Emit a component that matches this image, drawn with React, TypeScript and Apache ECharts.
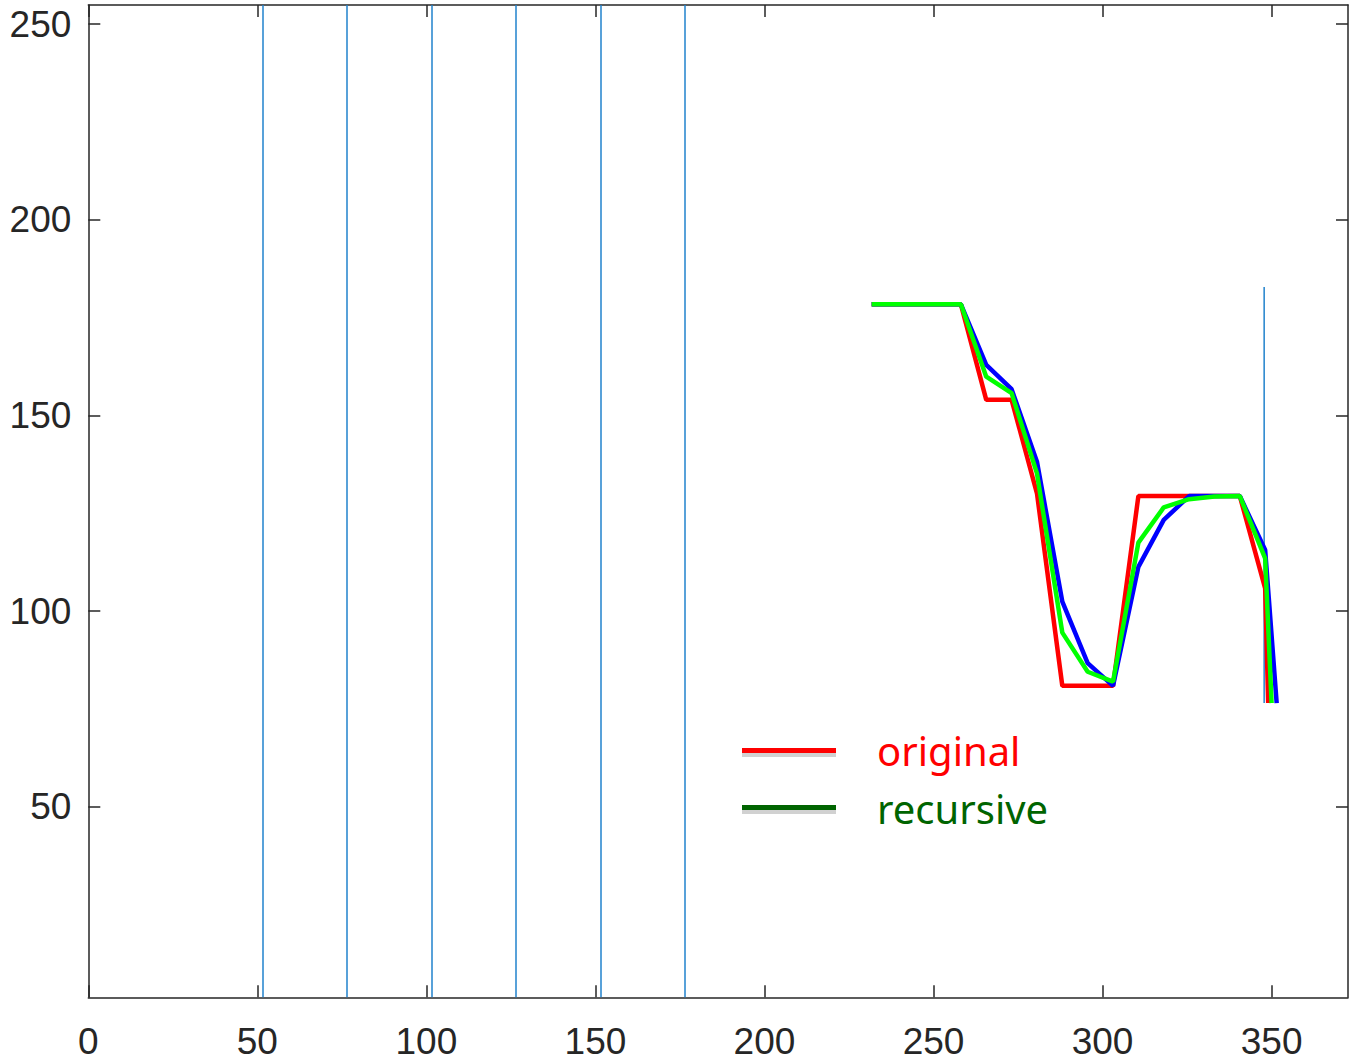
import React, { useEffect, useRef } from "react";
import * as echarts from "echarts";

const xTicks = [0, 50, 100, 150, 200, 250, 300, 350];
const yTicks = [50, 100, 150, 200, 250];

const xs = [231.7, 258.1, 265.6, 273.1, 280.6, 288.1, 295.6, 303.1, 310.6, 318.1, 325.6, 333.1, 340.6, 348.1];
const originalY = [178.4, 178.4, 154.0, 154.0, 130.1, 80.9, 80.9, 80.9, 129.4, 129.4, 129.4, 129.4, 129.4, 105.8];
const originalEnd = [349.0, 76.5];
const blueY = [178.4, 178.4, 162.9, 156.7, 138.2, 102.4, 86.7, 80.9, 111.3, 123.3, 129.4, 129.4, 129.4, 115.6];
const blueEnd = [351.5, 76.5];
const recursiveY = [178.4, 178.4, 159.9, 155.7, 135.2, 94.5, 84.5, 82.0, 117.5, 126.5, 128.6, 129.3, 129.4, 113.5];
const recursiveEnd = [350.0, 76.5];

const vLinesX = [51.5, 76.5, 101.5, 126.5, 151.5, 176.5];
const shortVLine = { x: 347.8, y0: 76.5, y1: 182.8 };

const X_MIN = 0;
const X_MAX = 372.6;
const Y_MIN = 1.3;
const Y_MAX = 254.9;

function pts(ys: number[], end: number[]) {
  const d: number[][] = xs.map((x, i) => [x, ys[i]]);
  d.push(end);
  return d;
}

export default function App() {
  const ref = useRef<HTMLDivElement>(null);
  useEffect(() => {
    if (!ref.current) return;
    const chart = echarts.init(ref.current, undefined, { renderer: "svg" });
    const axisColor = "#262626";
    const labelStyle = {
      fontFamily: "Liberation Sans",
      fontSize: 37,
      color: axisColor,
    };
    const blue = "#2182cc";
    const tickStyle = { color: axisColor, width: 1.5 };
    const option: any = {
      animation: false,
      backgroundColor: "#ffffff",
      grid: { left: 88.3, right: 5, top: 5, bottom: 65.7, containLabel: false },
      xAxis: [
        {
          type: "value",
          min: X_MIN,
          max: X_MAX,
          position: "bottom",
          axisLine: { show: true, onZero: false, lineStyle: tickStyle },
          axisTick: { show: true, inside: true, length: 12, customValues: xTicks, lineStyle: tickStyle },
          axisLabel: { show: true, customValues: xTicks, margin: 26, ...labelStyle },
          splitLine: { show: false },
        },
        {
          type: "value",
          min: X_MIN,
          max: X_MAX,
          position: "top",
          axisLine: { show: true, onZero: false, lineStyle: tickStyle },
          axisTick: { show: true, inside: true, length: 12, customValues: xTicks, lineStyle: tickStyle },
          axisLabel: { show: false },
          splitLine: { show: false },
        },
      ],
      yAxis: [
        {
          type: "value",
          min: Y_MIN,
          max: Y_MAX,
          position: "left",
          axisLine: { show: true, onZero: false, lineStyle: tickStyle },
          axisTick: { show: true, inside: true, length: 12, customValues: yTicks, lineStyle: tickStyle },
          axisLabel: { show: true, customValues: yTicks, margin: 17, ...labelStyle },
          splitLine: { show: false },
        },
        {
          type: "value",
          min: Y_MIN,
          max: Y_MAX,
          position: "right",
          axisLine: { show: true, onZero: false, lineStyle: tickStyle },
          axisTick: { show: true, inside: true, length: 12, customValues: yTicks, lineStyle: tickStyle },
          axisLabel: { show: false },
          splitLine: { show: false },
        },
      ],
      series: [
        {
          type: "line",
          name: "vlines",
          data: [],
          markLine: {
            silent: true,
            symbol: "none",
            label: { show: false },
            lineStyle: { color: blue, width: 1.5, type: "solid" },
            data: vLinesX.map((x) => ({ xAxis: x })),
          },
        },
        {
          type: "line",
          name: "vshort",
          data: [
            [shortVLine.x, shortVLine.y0],
            [shortVLine.x, shortVLine.y1],
          ],
          showSymbol: false,
          lineStyle: { color: blue, width: 1.5 },
        },
        {
          type: "line",
          name: "original",
          data: pts(originalY, originalEnd),
          showSymbol: false,
          lineStyle: { color: "#ff0000", width: 4.5 },
        },
        {
          type: "line",
          name: "blue",
          data: pts(blueY, blueEnd),
          showSymbol: false,
          lineStyle: { color: "#0000ff", width: 4.5 },
        },
        {
          type: "line",
          name: "recursive",
          data: pts(recursiveY, recursiveEnd),
          showSymbol: false,
          lineStyle: { color: "#00ff00", width: 4.5 },
        },
      ],
      graphic: [
        {
          type: "rect",
          shape: { x: 742, y: 752, width: 94, height: 5 },
          style: { fill: "rgba(0,0,0,0.18)" },
        },
        {
          type: "rect",
          shape: { x: 742, y: 748, width: 94, height: 5 },
          style: { fill: "#ff0000" },
        },
        {
          type: "rect",
          shape: { x: 742, y: 809, width: 94, height: 5 },
          style: { fill: "rgba(0,0,0,0.18)" },
        },
        {
          type: "rect",
          shape: { x: 742, y: 805, width: 94, height: 5 },
          style: { fill: "#006400" },
        },
        {
          type: "text",
          x: 877,
          y: 750,
          style: {
            text: "original",
            fill: "#ff0000",
            font: "40px 'Noto Sans'",
            verticalAlign: "middle",
            align: "left",
          },
        },
        {
          type: "text",
          x: 877,
          y: 808,
          style: {
            text: "recursive",
            fill: "#006400",
            font: "40px 'Noto Sans'",
            verticalAlign: "middle",
            align: "left",
          },
        },
      ],
    };
    chart.setOption(option);
    return () => chart.dispose();
  }, []);
  return (
    <div
      ref={ref}
      style={{ position: "absolute", left: 0, top: 0, width: 1353, height: 1063 }}
    />
  );
}
